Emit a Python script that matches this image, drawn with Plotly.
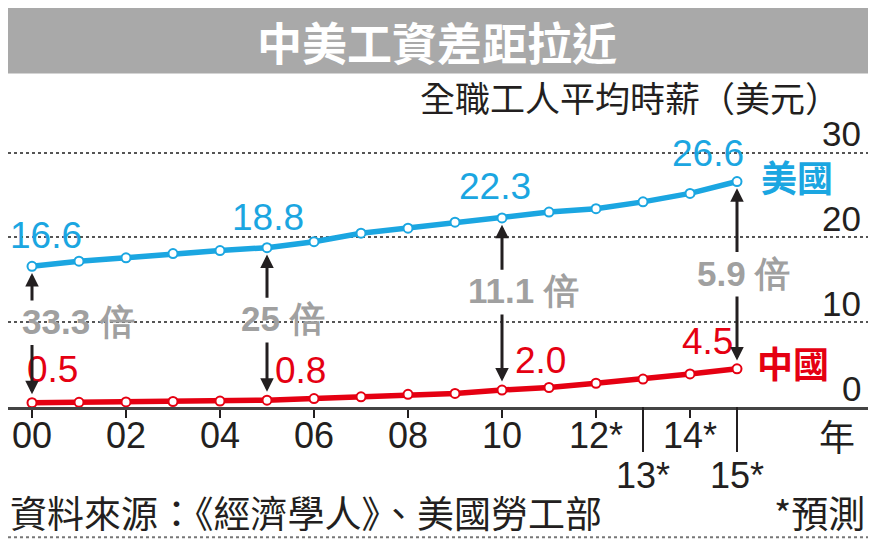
import plotly.graph_objects as go

# 全職工人平均時薪（美元）, 2000-2015 (12 年後為預測)
years = list(range(0, 16))
us_wage = [16.6, 17.2, 17.6, 18.1, 18.45, 18.8, 19.5, 20.5, 21.1, 21.8,
           22.3, 23.0, 23.4, 24.2, 25.2, 26.6]
cn_wage = [0.5, 0.55, 0.6, 0.65, 0.7, 0.8, 1.0, 1.2, 1.5, 1.6,
           2.0, 2.3, 2.8, 3.3, 3.9, 4.5]

tick_years = [0, 2, 4, 6, 8, 10, 12, 14]
tick_text = ["00", "02", "04", "06", "08", "10", "12*", "14*"]
low_tick_years = [13, 15]
low_tick_text = ["13*", "15*"]
y_ticks = [0, 10, 20, 30]

gap_years = [0, 5, 10, 15]
gap_text = ["33.3 倍", "25 倍", "11.1 倍", "5.9 倍"]
us_label = ["16.6", "18.8", "22.3", "26.6"]
cn_label = ["0.5", "0.8", "2.0", "4.5"]

BLUE = "#1ba6e1"
RED = "#e50012"
GRAY = "#a0a0a0"
INK = "#231f20"
NUM_FONT = "Liberation Sans, Arial, sans-serif"
CJK_FONT = "Noto Sans CJK TC, sans-serif"

# page body has an 8px margin, so the figure is drawn 8px in and 8px smaller
OFF = 8
W, H = 876 - OFF, 540 - OFF
UNIT = 254 / 30                       # px per dollar
Y0_PX = 407 - OFF                     # y=0 row in the figure
TOP = (153 - OFF) - 0.2 * UNIT        # range top is 30.2
BOT = H - Y0_PX
PLOT_H = H - TOP - BOT
X0_PX = 32 - OFF                      # year 00 column
XUNIT = 47


def py(p):
    # reference pixel row -> paper y
    return (Y0_PX - (p - OFF)) / PLOT_H


def px(p):
    # reference pixel column -> paper x
    return (p - OFF) / W


fig = go.Figure()
fig.add_trace(go.Scatter(
    x=years, y=us_wage, mode="lines+markers", cliponaxis=False,
    line=dict(color=BLUE, width=5.5),
    marker=dict(size=9, color="white", line=dict(color=BLUE, width=2)),
))
fig.add_trace(go.Scatter(
    x=years, y=cn_wage, mode="lines+markers", cliponaxis=False,
    line=dict(color=RED, width=5.5),
    marker=dict(size=9, color="white", line=dict(color=RED, width=2)),
))

ann = []
# value labels
us_shift = [(14, 31), (1, 30), (-7, 31), (-29, 28)]
cn_shift = [(20, 33), (33, 30), (38, 30), (-30, 27)]
for i, yr in enumerate(gap_years):
    ann.append(dict(x=yr, y=us_wage[yr], text=us_label[i], showarrow=False,
                    xshift=us_shift[i][0], yshift=us_shift[i][1],
                    font=dict(family=NUM_FONT, size=37, color=BLUE)))
    ann.append(dict(x=yr, y=cn_wage[yr], text=cn_label[i], showarrow=False,
                    xshift=cn_shift[i][0], yshift=cn_shift[i][1],
                    font=dict(family=NUM_FONT, size=37, color=RED)))

ann.append(dict(x=15, y=us_wage[-1], text="<b>美國</b>", showarrow=False,
                xshift=60, yshift=6,
                font=dict(family=CJK_FONT, size=36, color=BLUE)))
ann.append(dict(x=15, y=cn_wage[-1], text="<b>中國</b>", showarrow=False,
                xshift=56, yshift=7,
                font=dict(family=CJK_FONT, size=36, color=RED)))

# gap labels with arrows
gap_label_y = [10.1, 10.4, 13.7, 15.8]
gap_label_dx = [0.98, 0.34, 0.45, 0.13]
for i, yr in enumerate(gap_years):
    ly = gap_label_y[i]
    ann.append(dict(x=yr + gap_label_dx[i], y=ly, text=f"<b>{gap_text[i]}</b>",
                    showarrow=False,
                    font=dict(family=NUM_FONT, size=35, color=GRAY)))
    ann.append(dict(x=yr, y=us_wage[yr] - 0.8, ax=yr, ay=ly + 2.3,
                    axref="x", ayref="y", text="", showarrow=True,
                    arrowhead=2, arrowsize=0.9, arrowwidth=3, arrowcolor=INK))
    ann.append(dict(x=yr, y=cn_wage[yr] + 1.0, ax=yr, ay=ly - 2.6,
                    axref="x", ayref="y", text="", showarrow=True,
                    arrowhead=2, arrowsize=0.9, arrowwidth=3, arrowcolor=INK))

# x tick labels
for yr, t in zip(tick_years, tick_text):
    ann.append(dict(x=yr, y=py(435), yref="paper", yanchor="middle",
                    text=t, showarrow=False,
                    font=dict(family=NUM_FONT, size=36, color=INK)))
for yr, t in zip(low_tick_years, low_tick_text):
    ann.append(dict(x=yr, y=py(475), yref="paper", yanchor="middle",
                    text=t, showarrow=False,
                    font=dict(family=NUM_FONT, size=36, color=INK)))
ann.append(dict(x=px(837), y=py(435), xref="paper", yref="paper",
                xanchor="center", yanchor="middle", text="年", showarrow=False,
                font=dict(family=CJK_FONT, size=36, color=INK)))

# y tick labels, sitting just above each grid line
for v in y_ticks:
    ann.append(dict(x=px(863), y=v, xref="paper", xanchor="right",
                    yanchor="middle", yshift=19, text=str(v), showarrow=False,
                    font=dict(family=NUM_FONT, size=35, color=INK)))

# titles and source
ann.append(dict(x=px(437), y=py(42), xref="paper", yref="paper",
                xanchor="center", yanchor="middle",
                text="<b>中美工資差距拉近</b>", showarrow=False,
                font=dict(family=CJK_FONT, size=45, color="white")))
ann.append(dict(x=px(842), y=py(97), xref="paper", yref="paper",
                xanchor="right", yanchor="middle",
                text="全職工人平均時薪（美元）", showarrow=False,
                font=dict(family=CJK_FONT, size=35, color=INK)))
ann.append(dict(x=0, y=py(512), xref="paper", yref="paper",
                xanchor="left", yanchor="middle",
                text="資料來源：《經濟學人》、美國勞工部",
                showarrow=False,
                font=dict(family=CJK_FONT, size=37, color=INK)))
ann.append(dict(x=px(867), y=py(512), xref="paper", yref="paper",
                xanchor="right", yanchor="middle", text="*預測",
                showarrow=False,
                font=dict(family=CJK_FONT, size=37, color=INK)))

shapes = [
    dict(type="rect", xref="paper", yref="paper", x0=px(3), x1=px(873),
         y0=py(74), y1=py(3), fillcolor="#a9a9a9", line=dict(width=0),
         layer="below"),
    dict(type="line", xref="paper", yref="paper", x0=0, x1=1,
         y0=py(537), y1=py(537), line=dict(color="#777", width=2, dash="dot")),
]
for yr in low_tick_years:
    shapes.append(dict(type="line", xref="x", yref="paper", x0=yr, x1=yr,
                       y0=0, y1=py(452), line=dict(color=INK, width=2)))

fig.update_layout(
    width=W, height=H,
    margin=dict(l=0, r=0, t=TOP, b=BOT, pad=0),
    paper_bgcolor="white", plot_bgcolor="white",
    showlegend=False,
    annotations=ann, shapes=shapes,
    xaxis=dict(
        range=[-X0_PX / XUNIT, (W - X0_PX) / XUNIT],
        tickvals=tick_years, showticklabels=False,
        ticks="outside", ticklen=8, tickwidth=2, tickcolor=INK,
        showline=True, linecolor="#444", linewidth=2.5,
        showgrid=False, zeroline=False,
    ),
    yaxis=dict(
        range=[0, 30.2], tickvals=y_ticks, showticklabels=False, ticks="",
        showgrid=True, gridcolor="#555", gridwidth=1.5, griddash="dot",
        zeroline=False, showline=False,
    ),
)

fig.write_html("out.html")
